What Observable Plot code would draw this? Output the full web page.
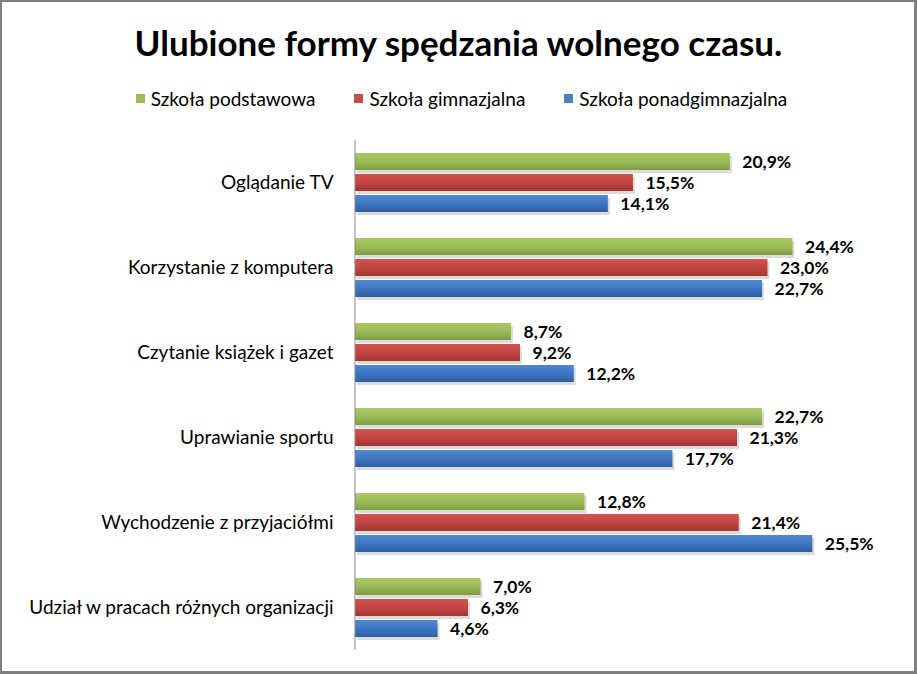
<!DOCTYPE html>
<html>
<head>
<meta charset="utf-8">
<script src="https://cdn.jsdelivr.net/npm/d3@7"></script>
<script src="https://cdn.jsdelivr.net/npm/@observablehq/plot@0.6"></script>
<style>
  html, body { margin: 0; padding: 0; background: #fff; }
  #chart { position: relative; width: 917px; height: 674px; overflow: hidden; background: #fff; font-family: "Lato", "Open Sans", sans-serif; }
  #frame { position: absolute; left: 0; top: 0; right: 0; bottom: 0; border-style: solid; border-color: #7f7f7f; border-width: 2px 3px 3px 2px; pointer-events: none; }
  #title { height: 80px; padding-top: 5px; box-sizing: border-box; line-height: 75px; text-align: center; font-weight: bold; font-size: 35px; color: #000; }
  #legend { height: 36px; display: flex; justify-content: center; align-items: center; gap: 39px; font-size: 19px; color: #000; padding-left: 6px; }
  #legend .item { display: flex; align-items: center; }
  #legend .sw { width: 9px; height: 9px; margin-right: 6px; }
  #plot svg { display: block; }
</style>
</head>
<body>
<svg width="0" height="0" style="position:absolute">
  <defs>
    <linearGradient id="gGreen" x1="0" y1="0" x2="0" y2="1">
      <stop offset="0" stop-color="#a9ca62"/>
      <stop offset="0.5" stop-color="#9bbb59"/>
      <stop offset="1" stop-color="#7f9c42"/>
    </linearGradient>
    <linearGradient id="gRed" x1="0" y1="0" x2="0" y2="1">
      <stop offset="0" stop-color="#d4524e"/>
      <stop offset="0.5" stop-color="#c34541"/>
      <stop offset="1" stop-color="#a23532"/>
    </linearGradient>
    <linearGradient id="gBlue" x1="0" y1="0" x2="0" y2="1">
      <stop offset="0" stop-color="#4f88d2"/>
      <stop offset="0.5" stop-color="#3f76c0"/>
      <stop offset="1" stop-color="#2e5fa3"/>
    </linearGradient>
  </defs>
</svg>
<div id="chart">
  <div id="title">Ulubione formy spędzania wolnego czasu.</div>
  <div id="legend"></div>
  <div id="plot"></div>
  <div id="frame"></div>
</div>
<script>
const categories = [
  "Oglądanie TV",
  "Korzystanie z komputera",
  "Czytanie książek i gazet",
  "Uprawianie sportu",
  "Wychodzenie z przyjaciółmi",
  "Udział w pracach różnych organizacji"
];
const series = ["Szkoła podstawowa", "Szkoła gimnazjalna", "Szkoła ponadgimnazjalna"];
const podstawowa = [20.9, 24.4, 8.7, 22.7, 12.8, 7.0];
const gimnazjalna = [15.5, 23.0, 9.2, 21.3, 21.4, 6.3];
const ponadgimnazjalna = [14.1, 22.7, 12.2, 17.7, 25.5, 4.6];
const seriesColors = ["#9bbb59", "#c0504d", "#4f81bd"];
const seriesFills = ["url(#gGreen)", "url(#gRed)", "url(#gBlue)"];

const values = [podstawowa, gimnazjalna, ponadgimnazjalna];
const rows = categories.flatMap((c, i) =>
  series.map((s, j) => ({ category: c, series: s, value: values[j][i] }))
);
const fmt = d => d.value.toFixed(1).replace(".", ",") + "%";

// legend
const legend = document.getElementById("legend");
series.forEach((s, j) => {
  const it = document.createElement("div");
  it.className = "item";
  const sw = document.createElement("span");
  sw.className = "sw";
  sw.style.background = seriesColors[j];
  const t = document.createElement("span");
  t.textContent = s;
  it.appendChild(sw);
  it.appendChild(t);
  legend.appendChild(it);
});

const chart = Plot.plot({
  width: 917,
  height: 558,
  marginLeft: 355,
  marginRight: 24,
  marginTop: 24,
  marginBottom: 24,
  style: { fontFamily: "Lato, 'Open Sans', sans-serif", fontSize: "19px", color: "#000", background: "transparent" },
  x: { domain: [0, 30], axis: null },
  y: { domain: series, axis: null, paddingInner: 0.2, paddingOuter: 0.58 },
  fy: { domain: categories, padding: 0, label: null, axis: "left", tickSize: 0, tickPadding: 22 },
  color: { domain: series, range: seriesFills },
  marks: [
    Plot.barX(rows, { fy: "category", y: "series", x: "value", fill: "#000", fillOpacity: 0.14, dx: 2, dy: 3 }),
    Plot.barX(rows, { fy: "category", y: "series", x: "value", fill: "series" }),
    Plot.text(rows, { fy: "category", y: "series", x: "value", text: fmt, textAnchor: "start", dx: 12, fontWeight: "bold", fontSize: 17.5, fill: "#000" }),
    Plot.ruleX([0], { stroke: "#868686", strokeWidth: 1, dx: -0.5 })
  ]
});
document.getElementById("plot").appendChild(chart);
</script>
</body>
</html>
